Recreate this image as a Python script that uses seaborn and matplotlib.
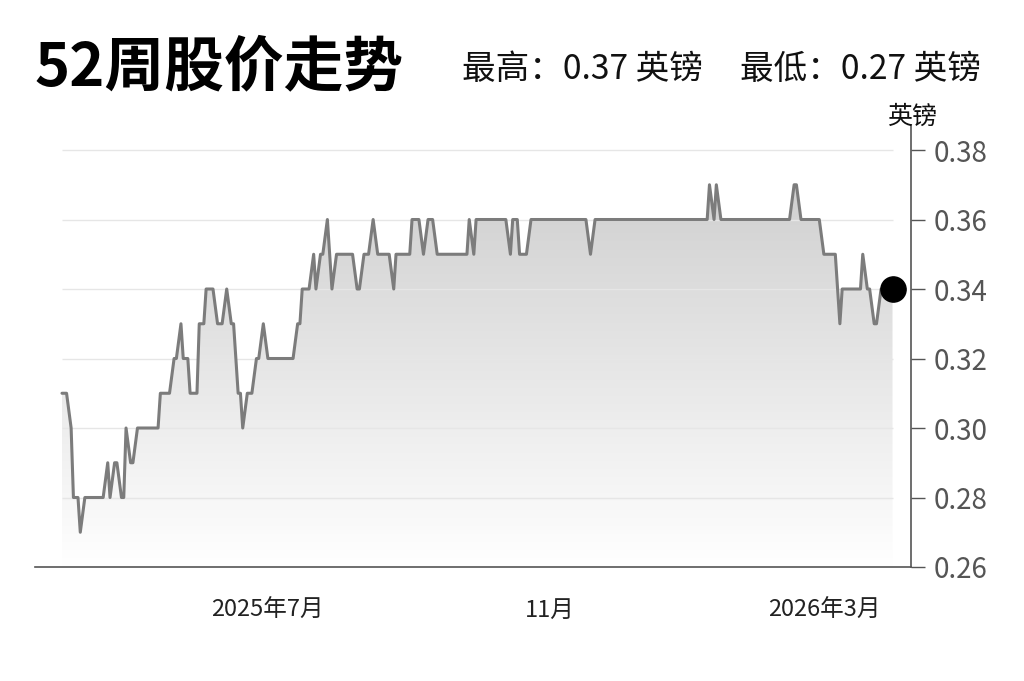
#!/usr/bin/env python3
import matplotlib
matplotlib.use('Agg')
import matplotlib.pyplot as plt
import matplotlib.dates as mdates
from matplotlib.colors import LinearSegmentedColormap
import seaborn as sns
import pandas as pd
import numpy as np

# turning points of the 52-week price line (GBP)
dates = ['2025-04-02', '2025-04-04', '2025-04-06', '2025-04-07', '2025-04-09', '2025-04-10',
         '2025-04-12', '2025-04-20', '2025-04-22', '2025-04-23', '2025-04-25', '2025-04-26',
         '2025-04-28', '2025-04-29', '2025-04-30', '2025-05-02', '2025-05-03', '2025-05-05',
         '2025-05-14', '2025-05-15', '2025-05-19', '2025-05-21', '2025-05-22', '2025-05-24',
         '2025-05-25', '2025-05-27', '2025-05-28', '2025-05-31', '2025-06-01', '2025-06-03',
         '2025-06-04', '2025-06-07', '2025-06-09', '2025-06-11', '2025-06-13', '2025-06-15',
         '2025-06-16', '2025-06-18', '2025-06-19', '2025-06-20', '2025-06-22', '2025-06-24',
         '2025-06-26', '2025-06-27', '2025-06-29', '2025-07-01', '2025-07-12', '2025-07-14',
         '2025-07-15', '2025-07-16', '2025-07-19', '2025-07-21', '2025-07-22', '2025-07-24',
         '2025-07-25', '2025-07-27', '2025-07-29', '2025-07-31', '2025-08-07', '2025-08-09',
         '2025-08-10', '2025-08-12', '2025-08-14', '2025-08-16', '2025-08-18', '2025-08-23',
         '2025-08-25', '2025-08-26', '2025-09-01', '2025-09-02', '2025-09-05', '2025-09-07',
         '2025-09-09', '2025-09-11', '2025-09-13', '2025-09-26', '2025-09-27', '2025-09-29',
         '2025-09-30', '2025-10-13', '2025-10-15', '2025-10-16', '2025-10-18', '2025-10-19',
         '2025-10-22', '2025-10-24', '2025-11-17', '2025-11-19', '2025-11-21', '2026-01-09',
         '2026-01-10', '2026-01-12', '2026-01-13', '2026-01-15', '2026-02-14', '2026-02-16',
         '2026-02-17', '2026-02-19', '2026-02-27', '2026-03-01', '2026-03-06', '2026-03-08',
         '2026-03-09', '2026-03-17', '2026-03-18', '2026-03-20', '2026-03-21', '2026-03-23',
         '2026-03-24', '2026-03-26', '2026-03-31']
prices = [0.31, 0.31, 0.30, 0.28, 0.28, 0.27,
          0.28, 0.28, 0.29, 0.28, 0.29, 0.29,
          0.28, 0.28, 0.30, 0.29, 0.29, 0.30,
          0.30, 0.31, 0.31, 0.32, 0.32, 0.33,
          0.32, 0.32, 0.31, 0.31, 0.33, 0.33,
          0.34, 0.34, 0.33, 0.33, 0.34, 0.33,
          0.33, 0.31, 0.31, 0.30, 0.31, 0.31,
          0.32, 0.32, 0.33, 0.32, 0.32, 0.33,
          0.33, 0.34, 0.34, 0.35, 0.34, 0.35,
          0.35, 0.36, 0.34, 0.35, 0.35, 0.34,
          0.34, 0.35, 0.35, 0.36, 0.35, 0.35,
          0.34, 0.35, 0.35, 0.36, 0.36, 0.35,
          0.36, 0.36, 0.35, 0.35, 0.36, 0.35,
          0.36, 0.36, 0.35, 0.36, 0.36, 0.35,
          0.35, 0.36, 0.36, 0.35, 0.36, 0.36,
          0.37, 0.36, 0.37, 0.36, 0.36, 0.37,
          0.37, 0.36, 0.36, 0.35, 0.35, 0.33,
          0.34, 0.34, 0.35, 0.34, 0.34, 0.33,
          0.33, 0.34, 0.34]

title = '52周股价走势'
high_text = '最高：0.37 英镑'
low_text = '最低：0.27 英镑'
unit = '英镑'
yticks = [0.26, 0.28, 0.30, 0.32, 0.34, 0.36, 0.38]
xtick_dates = ['2025-07-01', '2025-11-01', '2026-03-01']
xtick_labels = ['2025年7月', '11月', '2026年3月']

sns.set_style('white')
plt.rcParams['font.family'] = ['Noto Sans CJK SC', 'DejaVu Sans']

df = pd.DataFrame({'date': pd.to_datetime(dates), 'price': prices})

fig = plt.figure(figsize=(10.24, 6.81), dpi=100)
ax = fig.add_axes([35 / 1024, 1 - 567 / 681, (911 - 35) / 1024, (567 - 125) / 681])

# grey gradient under the line
poly = ax.fill_between(df['date'], df['price'], yticks[0], color='none', lw=0)
x0 = mdates.date2num(df['date'].iloc[0])
x1 = mdates.date2num(df['date'].iloc[-1])
grad = np.linspace(1, 0, 256).reshape(-1, 1)
cmap = LinearSegmentedColormap.from_list('fade', ['#ffffff', '#d0d0d0'])
img = ax.imshow(grad, extent=[x0, x1, yticks[0], max(prices)], aspect='auto',
                cmap=cmap, vmin=0, vmax=1, origin='upper', zorder=1)
img.set_clip_path(poly.get_paths()[0], transform=ax.transData)

ax.hlines(yticks[1:], df['date'].iloc[0], df['date'].iloc[-1], color='#e6e6e6', lw=1, zorder=2)

sns.lineplot(data=df, x='date', y='price', color='#7c7c7c', lw=2.2, ax=ax, zorder=3)
ax.scatter(df['date'].iloc[-1:], df['price'].iloc[-1:], s=330, color='black', zorder=5)

ax.set_ylim(0.26, 0.3872)
ax.set_xlim(pd.Timestamp('2025-03-21 05:00'), pd.Timestamp('2026-04-08 02:00'))

ax.yaxis.tick_right()
ax.set_yticks(yticks, labels=[f'{v:.2f}' for v in yticks])
ax.set_xticks(pd.to_datetime(xtick_dates), labels=xtick_labels)
ax.set_xlabel('')
ax.set_ylabel('')

for side in ['left', 'top']:
    ax.spines[side].set_visible(False)
for side in ['bottom', 'right']:
    ax.spines[side].set_color('#555555')
    ax.spines[side].set_linewidth(1.2)

ax.tick_params(axis='y', direction='out', length=10, width=1, color='#555555',
               pad=6, labelsize=20, labelcolor='#555555')
ax.tick_params(axis='x', direction='out', length=15, width=1, color='#555555',
               pad=8, labelsize=17, labelcolor='#222222')

fig.text(35 / 1024, 1 - 68 / 681, title, fontsize=43, fontweight='bold', va='center',
         color='black')
fig.text(462 / 1024, 1 - 69 / 681, high_text, fontsize=24.2, va='center', color='#111111')
fig.text(740 / 1024, 1 - 69 / 681, low_text, fontsize=24.2, va='center', color='#111111')
fig.text(912 / 1024, 1 - 117 / 681, unit, fontsize=18, ha='center', va='center', color='#111111')

fig.savefig('out.png', dpi=100)
